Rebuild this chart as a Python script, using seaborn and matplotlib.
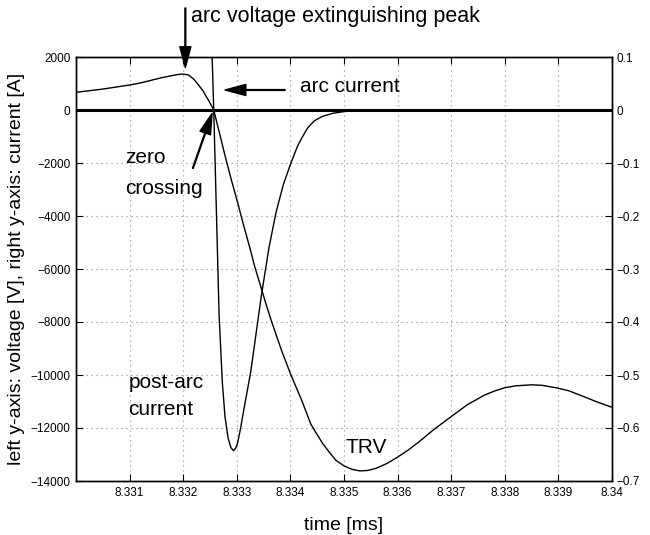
import numpy as np
import pandas as pd
import matplotlib
matplotlib.use("Agg")
import matplotlib.pyplot as plt
import seaborn as sns

# ---- data ----
v_time = [8.3300, 8.3305, 8.3310, 8.3312, 8.3314, 8.3316, 8.3318, 8.3319, 8.3320,
          8.3321, 8.3322, 8.33228, 8.33237, 8.33245, 8.33251, 8.33257, 8.33268,
          8.33279, 8.3329, 8.33301, 8.33312, 8.33323, 8.33334, 8.33346, 8.33356,
          8.33366, 8.33384, 8.33401, 8.33422, 8.33438, 8.3345, 8.3346, 8.33472,
          8.33485, 8.3350, 8.33515, 8.3353, 8.33545, 8.3356, 8.3358, 8.3360,
          8.3362, 8.3364, 8.33668, 8.3369, 8.3371, 8.33731, 8.33762, 8.3378,
          8.3380, 8.3382, 8.3385, 8.3387, 8.3390, 8.3392, 8.33948, 8.3397, 8.3400]
voltage = [667, 790, 943, 1020, 1120, 1220, 1300, 1340, 1357,
           1320, 1160, 960, 720, 440, 230, 0, -900,
           -1800, -2650, -3450, -4300, -5100, -5950, -6750, -7420,
           -8050, -9100, -10000, -11000, -11850, -12250, -12580, -12900,
           -13220, -13430, -13560, -13620, -13600, -13520, -13340, -13100,
           -12830, -12520, -12050, -11720, -11420, -11110, -10760, -10610,
           -10480, -10410, -10370, -10390, -10500, -10600, -10820, -11000, -11220]

i_time = [8.3325, 8.33254, 8.33257, 8.33262, 8.33267, 8.33273, 8.33278, 8.33284,
          8.33289, 8.33294, 8.33298, 8.33301, 8.33307, 8.33313, 8.33326, 8.33346,
          8.3336, 8.33373, 8.33387, 8.33401, 8.33413, 8.3342, 8.33432, 8.33445,
          8.3346, 8.3348, 8.3350, 8.3352, 8.3355, 8.3370, 8.3400]
current = [0.25, 0.1, 0.0, -0.194, -0.388, -0.514, -0.579, -0.620,
           -0.637, -0.643, -0.638, -0.630, -0.601, -0.566, -0.494, -0.349,
           -0.26, -0.194, -0.14, -0.10, -0.069, -0.055, -0.034, -0.02,
           -0.012, -0.006, -0.003, -0.001, 0.0, 0.0, 0.0]

x_ticks = [8.331, 8.332, 8.333, 8.334, 8.335, 8.336, 8.337, 8.338, 8.339, 8.340]
x_tick_labels = ["8.331", "8.332", "8.333", "8.334", "8.335", "8.336", "8.337",
                 "8.338", "8.339", "8.34"]
v_ticks = [-14000, -12000, -10000, -8000, -6000, -4000, -2000, 0, 2000]
i_ticks = [-0.7, -0.6, -0.5, -0.4, -0.3, -0.2, -0.1, 0, 0.1]
i_tick_labels = ["\u22120.7", "\u22120.6", "\u22120.5", "\u22120.4", "\u22120.3",
                 "\u22120.2", "\u22120.1", "0", "0.1"]

sns.set_theme(style="ticks", rc={"text.color": "black", "axes.labelcolor": "black",
                                 "xtick.color": "black", "ytick.color": "black",
                                 "axes.edgecolor": "black"})
plt.rcParams['font.family'] = ['Liberation Sans', 'DejaVu Sans']

fig = plt.figure(figsize=(6.5, 5.35), dpi=100)
ax = fig.add_axes([76 / 650, 1 - 481 / 535, (612 - 76) / 650, (481 - 57) / 535])
ax2 = ax.twinx()

dv = pd.DataFrame({"t": v_time, "v": voltage})
di = pd.DataFrame({"t": i_time, "i": current})

ax.axhline(0, color="black", lw=2.2, zorder=3)
sns.lineplot(data=dv, x="t", y="v", ax=ax, color="black", lw=1.0, sort=False)
sns.lineplot(data=di, x="t", y="i", ax=ax2, color="black", lw=1.0, sort=False)

ax.set_xlim(8.330, 8.340)
ax.set_ylim(-14000, 2000)
ax2.set_ylim(-0.7, 0.1)

ax.set_xticks(x_ticks)
ax.set_xticklabels(x_tick_labels)
ax.set_yticks(v_ticks)
ax.set_yticklabels([f"{v:d}".replace("-", "\u2212") for v in v_ticks])
ax2.set_yticks(i_ticks)
ax2.set_yticklabels(i_tick_labels)

ax.grid(True, linestyle=(0, (1, 3.5)), color="#888888", lw=0.8)
ax2.grid(False)

for a in (ax, ax2):
    for s in a.spines.values():
        s.set_visible(True)
        s.set_color("black")
        s.set_linewidth(1.0)
ax.tick_params(axis="both", which="both", direction="in", length=5, width=0.8,
               labelsize=8.5, colors="black", top=True, right=False, pad=4)
ax2.tick_params(axis="y", direction="in", length=5, width=0.8, labelsize=8.5,
                colors="black", pad=3)

ax.set_xlabel("time [ms]", fontsize=14, labelpad=13, color="black")
ax.set_ylabel("left y-axis: voltage [V], right y-axis: current [A]", fontsize=14,
              labelpad=4, color="black")
ax2.set_ylabel("")

fs = 15
arrow_kw = dict(facecolor="black", edgecolor="black", width=0.6, headwidth=8,
                headlength=15, shrink=0)

# arc voltage extinguishing peak
ax.annotate("", xy=(8.33204, 1600), xytext=(8.33204, 3850),
            arrowprops=arrow_kw, annotation_clip=False)
ax.text(8.33214, 3510, "arc voltage extinguishing peak", fontsize=15.5,
        va="center", ha="left", clip_on=False, color="black")

# arc current
ax.annotate("", xy=(8.33278, 755), xytext=(8.33390, 755), arrowprops=arrow_kw)
ax.text(8.33417, 870, "arc current", fontsize=fs, va="center", ha="left",
        color="black")

# zero crossing
ax.annotate("", xy=(8.33254, -125), xytext=(8.33218, -2200), arrowprops=arrow_kw)
ax.text(8.33092, -1800, "zero", fontsize=fs, va="center", ha="left", color="black")
ax.text(8.33092, -2950, "crossing", fontsize=fs, va="center", ha="left",
        color="black")

# post-arc current
ax.text(8.33098, -10300, "post-arc", fontsize=fs, va="center", ha="left",
        color="black")
ax.text(8.33098, -11300, "current", fontsize=fs, va="center", ha="left",
        color="black")

# TRV
ax.text(8.33503, -12720, "TRV", fontsize=fs, va="center", ha="left", color="black")

fig.savefig("out.png", dpi=100)
